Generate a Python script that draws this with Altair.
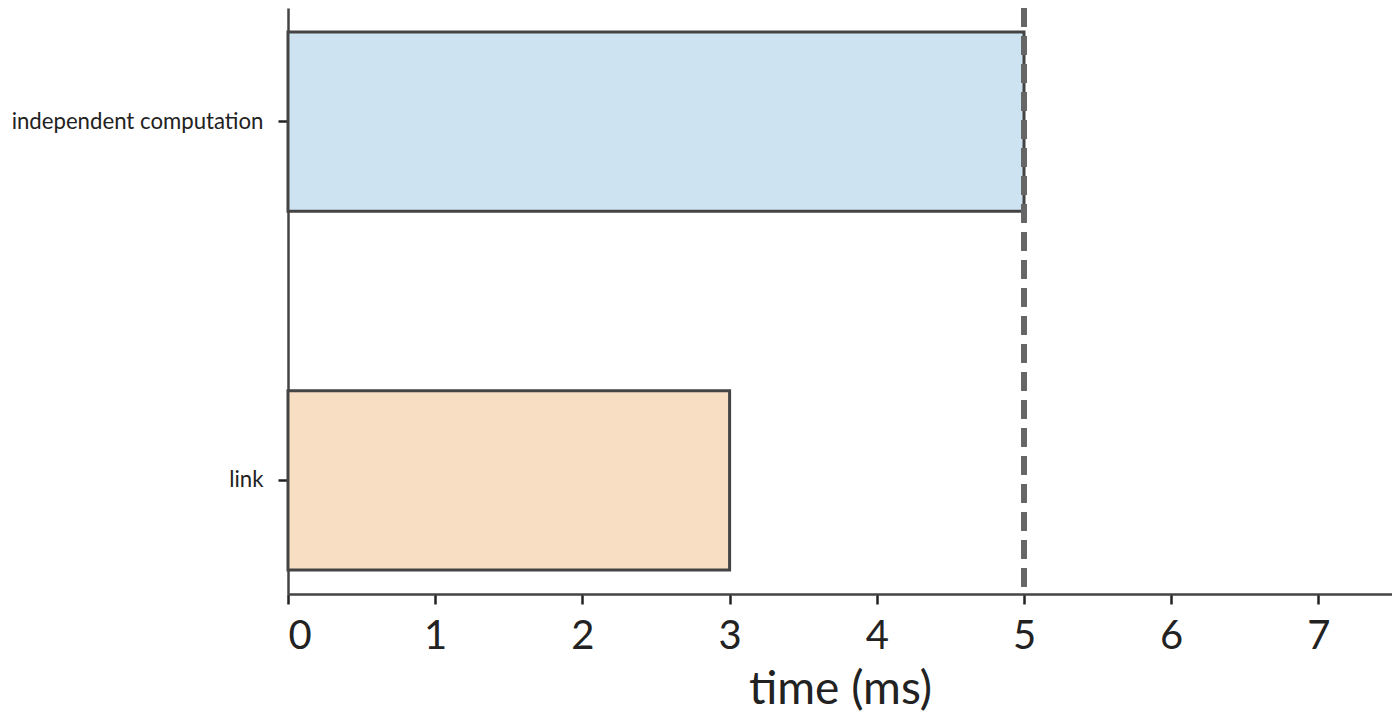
import altair as alt
import pandas as pd

tasks = ["independent computation", "link"]
starts = [0, 0]
ends = [5, 3]
fills = ["#cde3f2", "#f8dec2"]
deadline = [5]
x_ticks = [0, 1, 2, 3, 4, 5, 6, 7]

df = pd.DataFrame({"task": tasks, "start": starts, "end": ends})
rule_df = pd.DataFrame({"t": deadline})

FONT = "Lato"

x_scale = alt.Scale(domain=[0, 7.5], nice=False, zero=False)

bars = alt.Chart(df).mark_bar(stroke="#444444", strokeWidth=3).encode(
    x=alt.X("start:Q", scale=x_scale,
            axis=alt.Axis(title="time (ms)", values=x_ticks, format="d", grid=False,
                          labelFontSize=40, titleFontSize=46, labelPadding=12,
                          titlePadding=11, titleFontWeight="normal")),
    x2="end:Q",
    y=alt.Y("task:N", sort=tasks,
            scale=alt.Scale(paddingInner=0.5, paddingOuter=0.0667, align=0.5),
            axis=alt.Axis(title=None, labelFontSize=22.2, labelPadding=15, labelLimit=0, grid=False)),
    fill=alt.Fill("task:N", scale=alt.Scale(domain=tasks, range=fills), legend=None),
)

rule = alt.Chart(rule_df).mark_rule(color="#666666", strokeWidth=6, strokeDash=[19, 9]).encode(
    x=alt.X("t:Q", scale=x_scale)
)

chart = alt.layer(bars, rule).properties(
    width=1104, height=586,
    autosize=alt.AutoSizeParams(type="none"),
    padding={"left": 280, "top": 0, "right": 0, "bottom": 122},
).configure_view(stroke=None).configure_axis(
    domainColor="#444444", domainWidth=2.5, tickColor="#222222", tickSize=10, tickWidth=2.5,
    labelColor="#222222", titleColor="#222222", labelFont=FONT, titleFont=FONT,
)

chart.save("out.html", embed_options={"renderer": "svg", "actions": False})
